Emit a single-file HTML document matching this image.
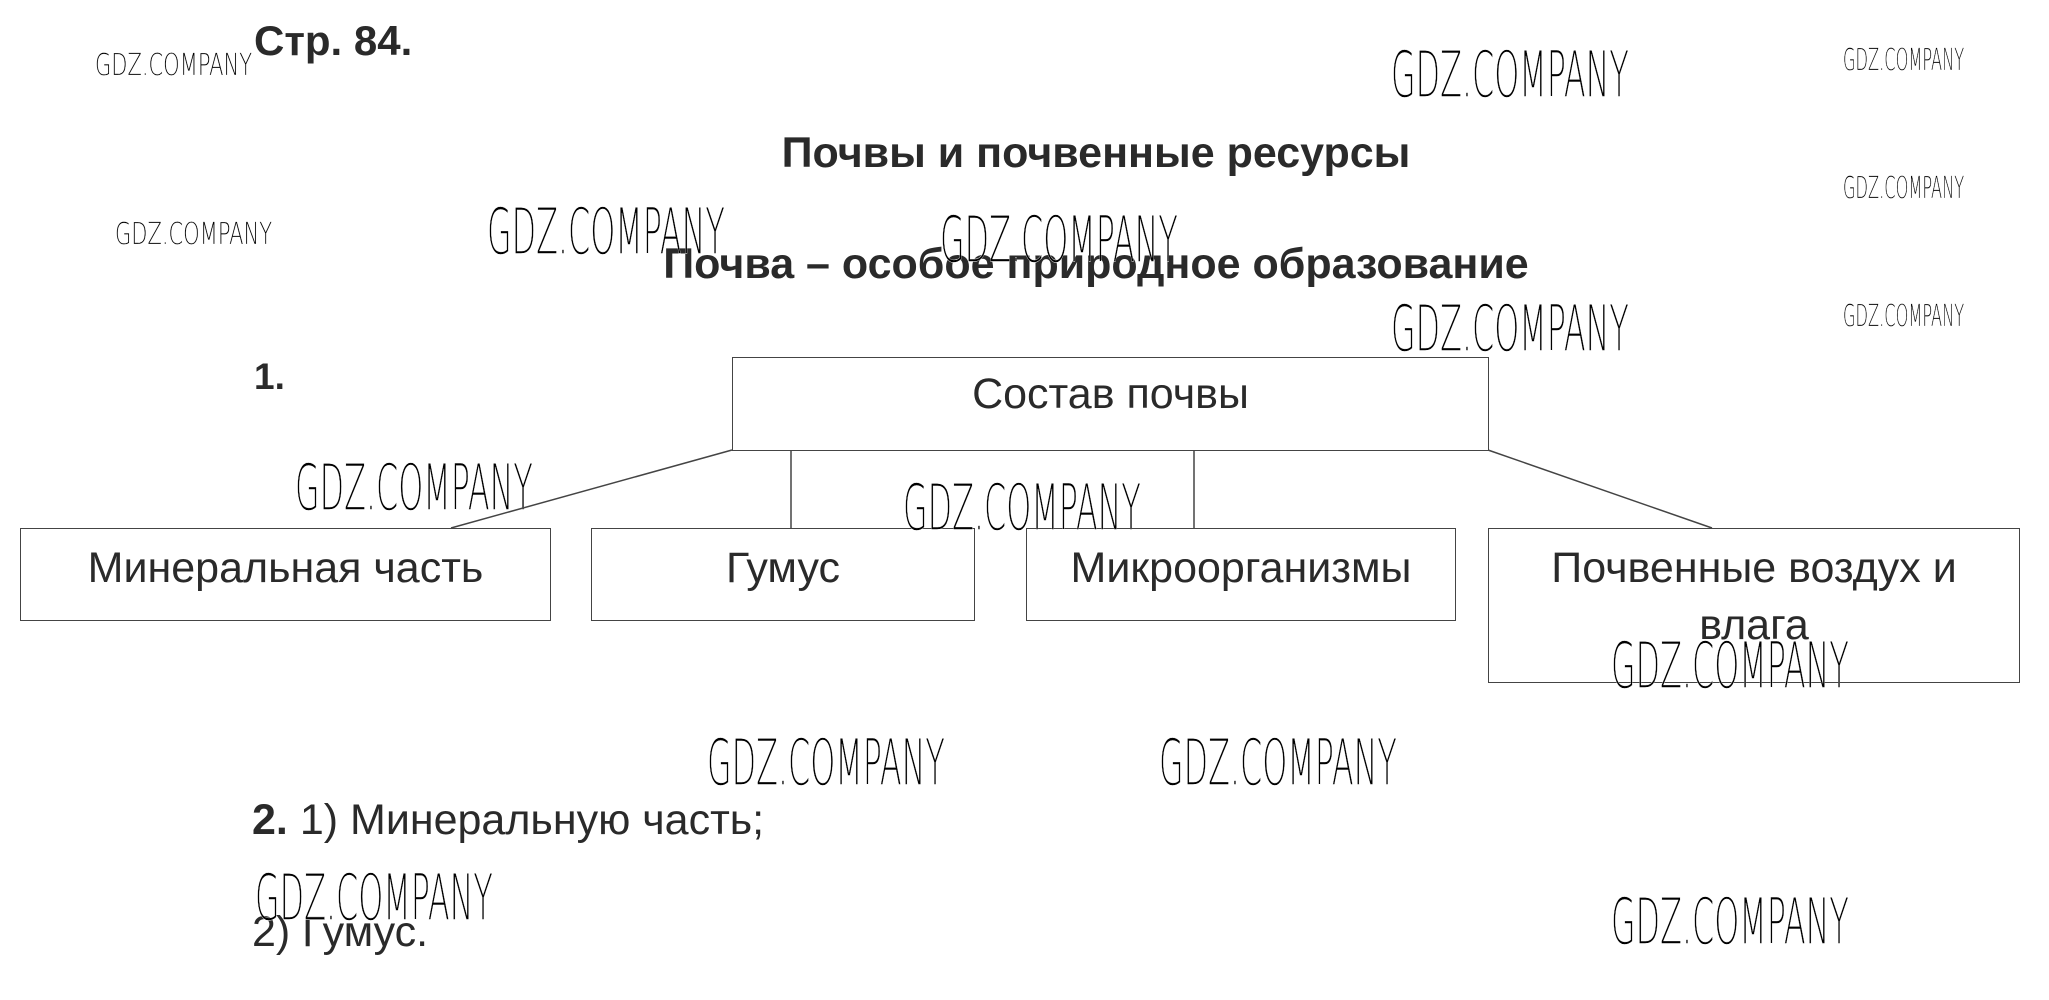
<!DOCTYPE html>
<html><head><meta charset="utf-8"><style>
html,body{margin:0;padding:0;background:#fff;}
body{width:2049px;height:1000px;position:relative;overflow:hidden;font-family:"Liberation Sans",sans-serif;color:#2a2a2a;}
.t{position:absolute;white-space:nowrap;line-height:1;}
.b{font-weight:bold;}
.box{position:absolute;border:1.5px solid #444;box-sizing:border-box;}
.w{position:absolute;white-space:nowrap;line-height:1;color:#000;font-family:"DejaVu Sans","Liberation Sans",sans-serif;font-weight:200;transform-origin:0 0;-webkit-text-stroke:0.4px #fff;}
.wb{font-size:60px;transform:scaleX(0.53) scaleY(1.05);}
.wm{font-size:30px;transform:scaleX(0.7);-webkit-text-stroke:0.2px #fff;}
.wr{font-size:30px;transform:scaleX(0.54);-webkit-text-stroke:0.2px #fff;}
</style></head><body>
<div class="t b" style="left:254px;top:20px;font-size:42px;">Стр. 84.</div>
<div class="t b" style="left:0;width:2192px;text-align:center;top:132px;font-size:43px;">Почвы и почвенные ресурсы</div>
<div class="t b" style="left:0;width:2192px;text-align:center;top:243px;font-size:43px;">Почва – особое природное образование</div>
<div class="t b" style="left:254px;top:358px;font-size:37px;">1.</div>

<svg style="position:absolute;left:0;top:0" width="2049" height="1000">
<g stroke="#444" stroke-width="1.5" fill="none">
<line x1="732" y1="450" x2="451" y2="528"/>
<line x1="791" y1="450" x2="791" y2="528"/>
<line x1="1194" y1="450" x2="1194" y2="528"/>
<line x1="1488" y1="450" x2="1712" y2="528"/>
</g></svg>

<div class="box" style="left:732px;top:357px;width:757px;height:94px;"></div>
<div class="t" style="left:732px;width:757px;text-align:center;top:373px;font-size:43px;">Состав почвы</div>
<div class="box" style="left:20px;top:528px;width:531px;height:93px;"></div>
<div class="t" style="left:20px;width:531px;text-align:center;top:547px;font-size:43px;">Минеральная часть</div>
<div class="box" style="left:591px;top:528px;width:384px;height:93px;"></div>
<div class="t" style="left:591px;width:384px;text-align:center;top:547px;font-size:43px;">Гумус</div>
<div class="box" style="left:1026px;top:528px;width:430px;height:93px;"></div>
<div class="t" style="left:1026px;width:430px;text-align:center;top:547px;font-size:43px;">Микроорганизмы</div>
<div class="box" style="left:1488px;top:528px;width:532px;height:155px;"></div>
<div class="t" style="left:1488px;width:532px;text-align:center;top:547px;font-size:43px;">Почвенные воздух и</div>
<div class="t" style="left:1488px;width:532px;text-align:center;top:604px;font-size:43px;">влага</div>

<div class="t" style="left:252px;top:799px;font-size:43px;"><span class="b">2.</span> 1) Минеральную часть;</div>
<div class="t" style="left:252px;top:911px;font-size:43px;">2) Гумус.</div>

<div class="w wm" style="left:95px;top:51px;">GDZ.COMPANY</div>
<div class="w wb" style="left:1391px;top:44px;">GDZ.COMPANY</div>
<div class="w wr" style="left:1843px;top:46px;">GDZ.COMPANY</div>
<div class="w wr" style="left:1843px;top:174px;">GDZ.COMPANY</div>
<div class="w wr" style="left:1843px;top:302px;">GDZ.COMPANY</div>
<div class="w wm" style="left:115px;top:220px;">GDZ.COMPANY</div>
<div class="w wb" style="left:487px;top:201px;">GDZ.COMPANY</div>
<div class="w wb" style="left:940px;top:209px;">GDZ.COMPANY</div>
<div class="w wb" style="left:1391px;top:298px;">GDZ.COMPANY</div>
<div class="w wb" style="left:295px;top:457px;">GDZ.COMPANY</div>
<div class="w wb" style="left:903px;top:477px;">GDZ.COMPANY</div>
<div class="w wb" style="left:1611px;top:635px;">GDZ.COMPANY</div>
<div class="w wb" style="left:707px;top:732px;">GDZ.COMPANY</div>
<div class="w wb" style="left:1159px;top:732px;">GDZ.COMPANY</div>
<div class="w wb" style="left:255px;top:867px;">GDZ.COMPANY</div>
<div class="w wb" style="left:1611px;top:891px;">GDZ.COMPANY</div>
</body></html>
